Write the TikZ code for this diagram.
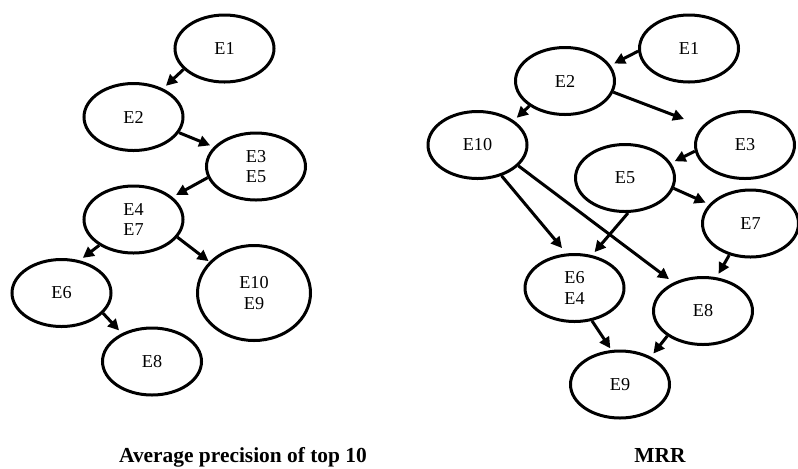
\documentclass[tikz,border=0pt]{standalone}
\usepackage{fontspec}
\setmainfont{Liberation Serif}
\usetikzlibrary{shapes.geometric,arrows.meta}
\begin{document}
\begin{tikzpicture}[x=0.5pt,y=-0.5pt,
  ent/.style={ellipse,draw,line width=1.5pt,minimum width=49.5pt,minimum height=33.5pt,
    inner sep=0pt,align=center,font=\fontsize{9.1pt}{10.4pt}\selectfont},
  link/.style={line width=1.5pt,-{Triangle[length=5.5pt,width=5.5pt]},shorten >=2pt},
  caption/.style={anchor=base,font=\fontsize{10.7pt}{12pt}\selectfont\bfseries}]
\useasboundingbox (0,0) rectangle (798,468);

% ---- ranking by average precision of top 10
\node[ent] (a1) at (224.5,48.5) {E1};
\node[ent] (a2) at (133.5,117) {E2};
\node[ent] (a35) at (256,166.5) {E3\\E5};
\node[ent] (a47) at (133.5,219.5) {E4\\E7};
\node[ent] (a6) at (61.5,293) {E6};
\node[ent,minimum width=56.5pt,minimum height=47.5pt] (a109) at (254,293) {E10\\E9};
\node[ent] (a8) at (152,361.5) {E8};

\draw[link] (a1.207) -- (a2.44);
\draw[link] (a2.-19) -- (a35.155.5);
\draw[link] (a35.193) -- (a47.30.6);
\draw[link] (a47.217.8) -- (a6.61.4);
\draw[link,shorten >=0.5pt] (a47.-22.6) -- (a109.145.7);
\draw[link] (a6.-26.3) -- (a8.137.3);

\node[caption] (capA) at (243,462) {Average precision of top 10};

% ---- ranking by MRR
\node[ent] (b1) at (689,48.5) {E1};
\node[ent] (b2) at (565,81) {E2};
\node[ent] (b10) at (477.5,145) {E10};
\node[ent] (b3) at (745,145) {E3};
\node[ent] (b5) at (625,178) {E5};
\node[ent,minimum width=48pt] (b7) at (750.5,223.5) {E7};
\node[ent] (b64) at (574.5,288) {E6\\E4};
\node[ent] (b8) at (703,311) {E8};
\node[ent] (b9) at (620,384.5) {E9};

\draw[link] (b1.183.9) -- (b2.19.5);
\draw[link,shorten >=9.75pt] (b2.-13.2) -- (b3.156.8);
\draw[link] (b2.215) -- (b10.34.7);
\draw[link] (b3.187.7) -- (b5.18.8);
\draw[link] (b5.-12.2) -- (b7.155);
\draw[link,shorten >=3.5pt] (b10.-52.3) -- (b64.103.4);
\draw[link,shorten >=2.8pt] (b10.-27.4) -- (b8.136.8);
\draw[link] (b5.-85) -- (b64.62.1);
\draw[link] (b7.236.7) -- (b8.68.2);
\draw[link,shorten >=1pt] (b64.-62.1) -- (b9.104.2);
\draw[link] (b8.215) -- (b9.42.7);

\node[caption] (capB) at (660,462) {MRR};
\end{tikzpicture}
\end{document}
